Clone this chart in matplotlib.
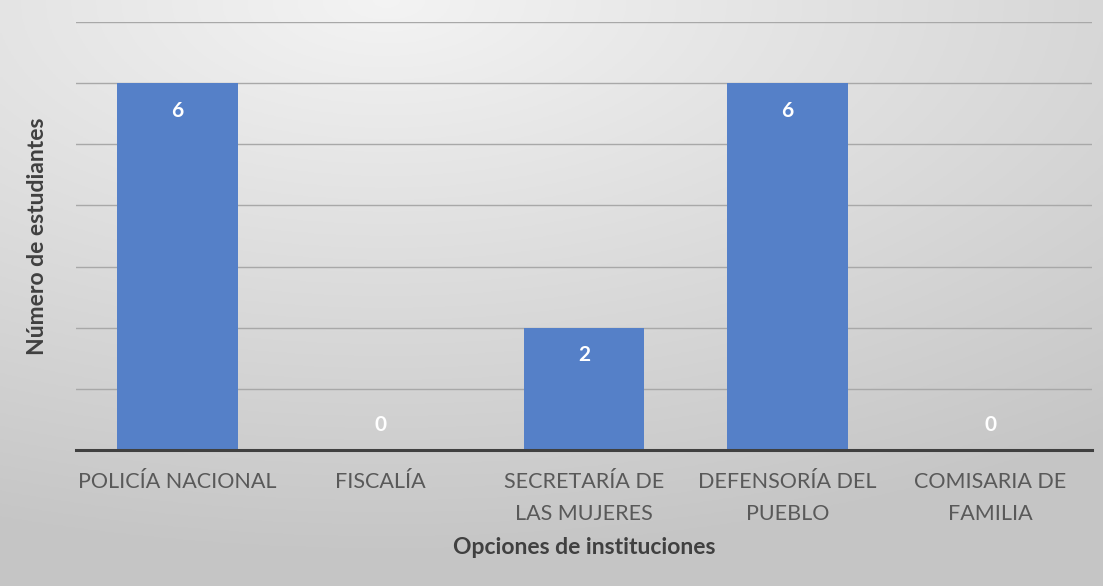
import numpy as np
import matplotlib.pyplot as plt

# chart data
categories = ['POLICÍA NACIONAL', 'FISCALÍA', 'SECRETARÍA DE\nLAS MUJERES',
              'DEFENSORÍA DEL\nPUEBLO', 'COMISARIA DE\nFAMILIA']
values = [6, 0, 2, 6, 0]

plt.rcParams['font.family'] = ['Lato', 'DejaVu Sans']

fig = plt.figure(figsize=(11.03, 5.86), dpi=100)

# gradient background over the whole figure
bg = fig.add_axes([0, 0, 1, 1], zorder=0)
gx, gy = np.meshgrid(np.linspace(0, 1, 400), np.linspace(0, 1, 220))
dist = np.sqrt(((gx - 0.35) / 1.0) ** 2 + ((gy - 0.0) / 0.9) ** 2)
shade = 0.955 - 0.18 * np.clip(dist / 1.05, 0, 1)
bg.imshow(np.dstack([shade] * 3), extent=[0, 1, 0, 1], aspect='auto', origin='upper')
bg.axis('off')

ax = fig.add_axes([76 / 1103, 1 - 450 / 586, 1016 / 1103, 428 / 586], zorder=1)
ax.patch.set_alpha(0)

x = np.arange(len(categories))
bars = ax.bar(x, values, width=0.595, color='#5580c8', zorder=3)

ax.set_xlim(-0.5, len(categories) - 0.5)
ax.set_ylim(0, 7)
ax.set_yticks(range(0, 8))
ax.yaxis.grid(True, color='#a8a8a8', linewidth=1.0, zorder=0)
ax.tick_params(axis='y', left=False, labelleft=False)
ax.tick_params(axis='x', bottom=False, labelsize=15.5, labelcolor='#595959', pad=12)
ax.set_xticks(x)
ax.set_xticklabels(categories, linespacing=1.75)

for s in ['top', 'right', 'left']:
    ax.spines[s].set_visible(False)
ax.spines['bottom'].set_color('#404040')
ax.spines['bottom'].set_linewidth(2.2)
ax.spines['bottom'].set_zorder(4)

# value labels inside the bars (zeros sit just above the baseline)
for xi, v in zip(x, values):
    off = -20 if v > 0 else 18
    ax.annotate(str(v), (xi, v), xytext=(0, off), textcoords='offset points',
                ha='center', va='center', color='white', fontsize=15,
                fontweight='bold', zorder=5)

ax.set_xlabel('Opciones de instituciones', fontsize=16.5, fontweight='bold',
              color='#404040', labelpad=10)
ax.set_ylabel('Número de estudiantes', fontsize=16.5, fontweight='bold',
              color='#404040', labelpad=20)

plt.savefig('out.png', dpi=100)
